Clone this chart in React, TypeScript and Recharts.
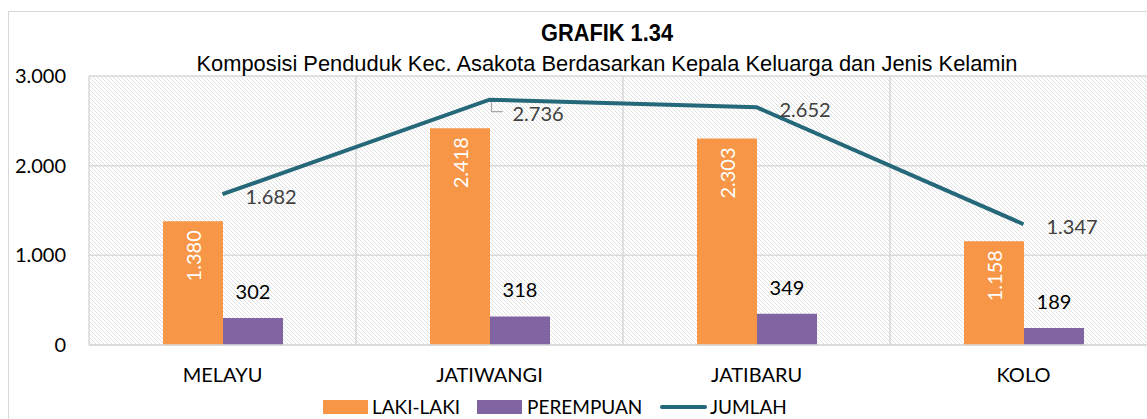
import { ComposedChart, Bar, Line, XAxis, YAxis, CartesianGrid, Legend, LabelList } from 'recharts';

const categories = ['MELAYU', 'JATIWANGI', 'JATIBARU', 'KOLO'];
const lakiLaki = [1380, 2418, 2303, 1158];
const perempuan = [302, 318, 349, 189];
const jumlah = [1682, 2736, 2652, 1347];
const yTicks = [0, 1000, 2000, 3000];

const data = categories.map((name, i) => ({
    name,
    laki: lakiLaki[i],
    perempuan: perempuan[i],
    jumlah: jumlah[i],
}));

const ORANGE = '#F79646';
const PURPLE = '#8064A2';
const TEAL = '#24687A';
const GRID = '#d9d9d9';
const FONT = 'Lato, "Open Sans", sans-serif';
const NARROW = '"Liberation Sans Narrow", "Liberation Sans", Arial, sans-serif';

// 1380 -> 1.380
const fmt = (v: number) => String(v).replace(/\B(?=(\d{3})+(?!\d))/g, '.');

const LakiLabel = (props: any) => {
    const { x, y, width, value } = props;
    const cx = x + width / 2;
    const ty = y + 9;
    return (
        <text
            x={cx}
            y={ty}
            transform={`rotate(-90 ${cx} ${ty})`}
            textAnchor="end"
            dominantBaseline="central"
            fill="#fff"
            fontSize={20}
            fontFamily={FONT}
        >
            {fmt(value)}
        </text>
    );
};

const PerempuanLabel = (props: any) => {
    const { x, y, width, value } = props;
    return (
        <text x={x + width / 2} y={y - 27} textAnchor="middle" dominantBaseline="central" fill="#000" fontSize={20} fontFamily={FONT}>
            {fmt(value)}
        </text>
    );
};

const JumlahLabel = (props: any) => {
    const { x, y, value, index } = props;
    // label JATIWANGI digeser ke bawah, pakai garis penunjuk
    const shifted = index === 1;
    const dy = shifted ? 13 : 2;
    return (
        <g>
            {shifted && (
                <path d={`M${x + 2},${y + 2} V${y + 12} H${x + 13}`} stroke="#a6a6a6" strokeWidth={1.2} fill="none" />
            )}
            <text x={x + 23} y={y + dy} dominantBaseline="central" fill="#404040" fontSize={20} fontFamily={FONT}>
                {fmt(value)}
            </text>
        </g>
    );
};

const renderLegend = () => (
    <div style={{ display: 'flex', alignItems: 'center', fontFamily: FONT, fontSize: 19, color: '#000', lineHeight: '20px', whiteSpace: 'nowrap' }}>
        <span style={{ width: 45, height: 14, background: ORANGE, display: 'inline-block', marginRight: 4 }} />
        <span style={{ width: 105, display: 'inline-block' }}>LAKI-LAKI</span>
        <span style={{ width: 45, height: 14, background: PURPLE, display: 'inline-block', marginRight: 5 }} />
        <span style={{ width: 133, display: 'inline-block' }}>PEREMPUAN</span>
        <span style={{ width: 47, height: 4, borderRadius: 2, background: TEAL, display: 'inline-block', marginRight: 3 }} />
        <span>JUMLAH</span>
    </div>
);

export default function App() {
    return (
        <div style={{ position: 'absolute', left: 0, top: 0, width: 1147, height: 419, overflow: 'hidden', background: '#fff' }}>
            <svg width={0} height={0} style={{ position: 'absolute' }}>
                <defs>
                    <pattern id="hatch" patternUnits="userSpaceOnUse" width={4} height={4}>
                        <path d="M0,0 L4,4 M-1,3 L1,5 M3,-1 L5,1" stroke="#e0e0e0" strokeWidth={1} />
                    </pattern>
                </defs>
            </svg>
            <div
                style={{
                    position: 'absolute',
                    left: 8,
                    top: 11,
                    width: 1300,
                    height: 500,
                    borderLeft: `1px solid ${GRID}`,
                    borderTop: `1px solid ${GRID}`,
                }}
            />
            <div style={{ position: 'absolute', left: 0, top: 0 }}>
                <ComposedChart width={1200} height={419} data={data} barGap={0} margin={{ top: 76, right: 43, bottom: 44, left: 29 }}>
                    <CartesianGrid
                        fill="url(#hatch)"
                        stroke={GRID}
                        strokeWidth={1.5}
                        verticalCoordinatesGenerator={({ offset }: any) =>
                            [0, 1, 2, 3, 4].map((i) => offset.left + (i * offset.width) / 4)
                        }
                    />
                    <XAxis
                        dataKey="name"
                        height={30}
                        axisLine={{ stroke: GRID, strokeWidth: 1.5 }}
                        tickLine={false}
                        tickSize={0}
                        tickMargin={23}
                        tick={{ fill: '#000', fontSize: 20, fontFamily: FONT }}
                    />
                    <YAxis
                        width={60}
                        domain={[0, 3000]}
                        ticks={yTicks}
                        axisLine={false}
                        tickLine={false}
                        tickSize={0}
                        tickMargin={23}
                        tickFormatter={fmt}
                        tick={{ fill: '#000', fontSize: 20, fontFamily: FONT }}
                    />
                    <Legend
                        layout="horizontal"
                        verticalAlign="middle"
                        align="center"
                        content={renderLegend}
                        wrapperStyle={{ left: 323, top: 397, width: 'auto' }}
                    />
                    <Bar dataKey="laki" name="LAKI-LAKI" fill={ORANGE} barSize={60} isAnimationActive={false}>
                        <LabelList dataKey="laki" content={LakiLabel} />
                    </Bar>
                    <Bar dataKey="perempuan" name="PEREMPUAN" fill={PURPLE} barSize={60} isAnimationActive={false}>
                        <LabelList dataKey="perempuan" content={PerempuanLabel} />
                    </Bar>
                    <Line
                        dataKey="jumlah"
                        name="JUMLAH"
                        type="linear"
                        stroke={TEAL}
                        strokeWidth={4}
                        dot={false}
                        activeDot={false}
                        isAnimationActive={false}
                    >
                        <LabelList dataKey="jumlah" content={JumlahLabel} />
                    </Line>
                    <text x={607} y={41} textAnchor="middle" fontSize={24} fontWeight="bold" fontFamily={NARROW} fill="#000" textLength={132} lengthAdjust="spacingAndGlyphs">
                        GRAFIK 1.34
                    </text>
                    <text x={607} y={71} textAnchor="middle" fontSize={21.5} fontFamily={NARROW} fill="#000" textLength={821} lengthAdjust="spacingAndGlyphs">
                        Komposisi Penduduk Kec. Asakota Berdasarkan Kepala Keluarga dan Jenis Kelamin
                    </text>
                </ComposedChart>
            </div>
        </div>
    );
}
